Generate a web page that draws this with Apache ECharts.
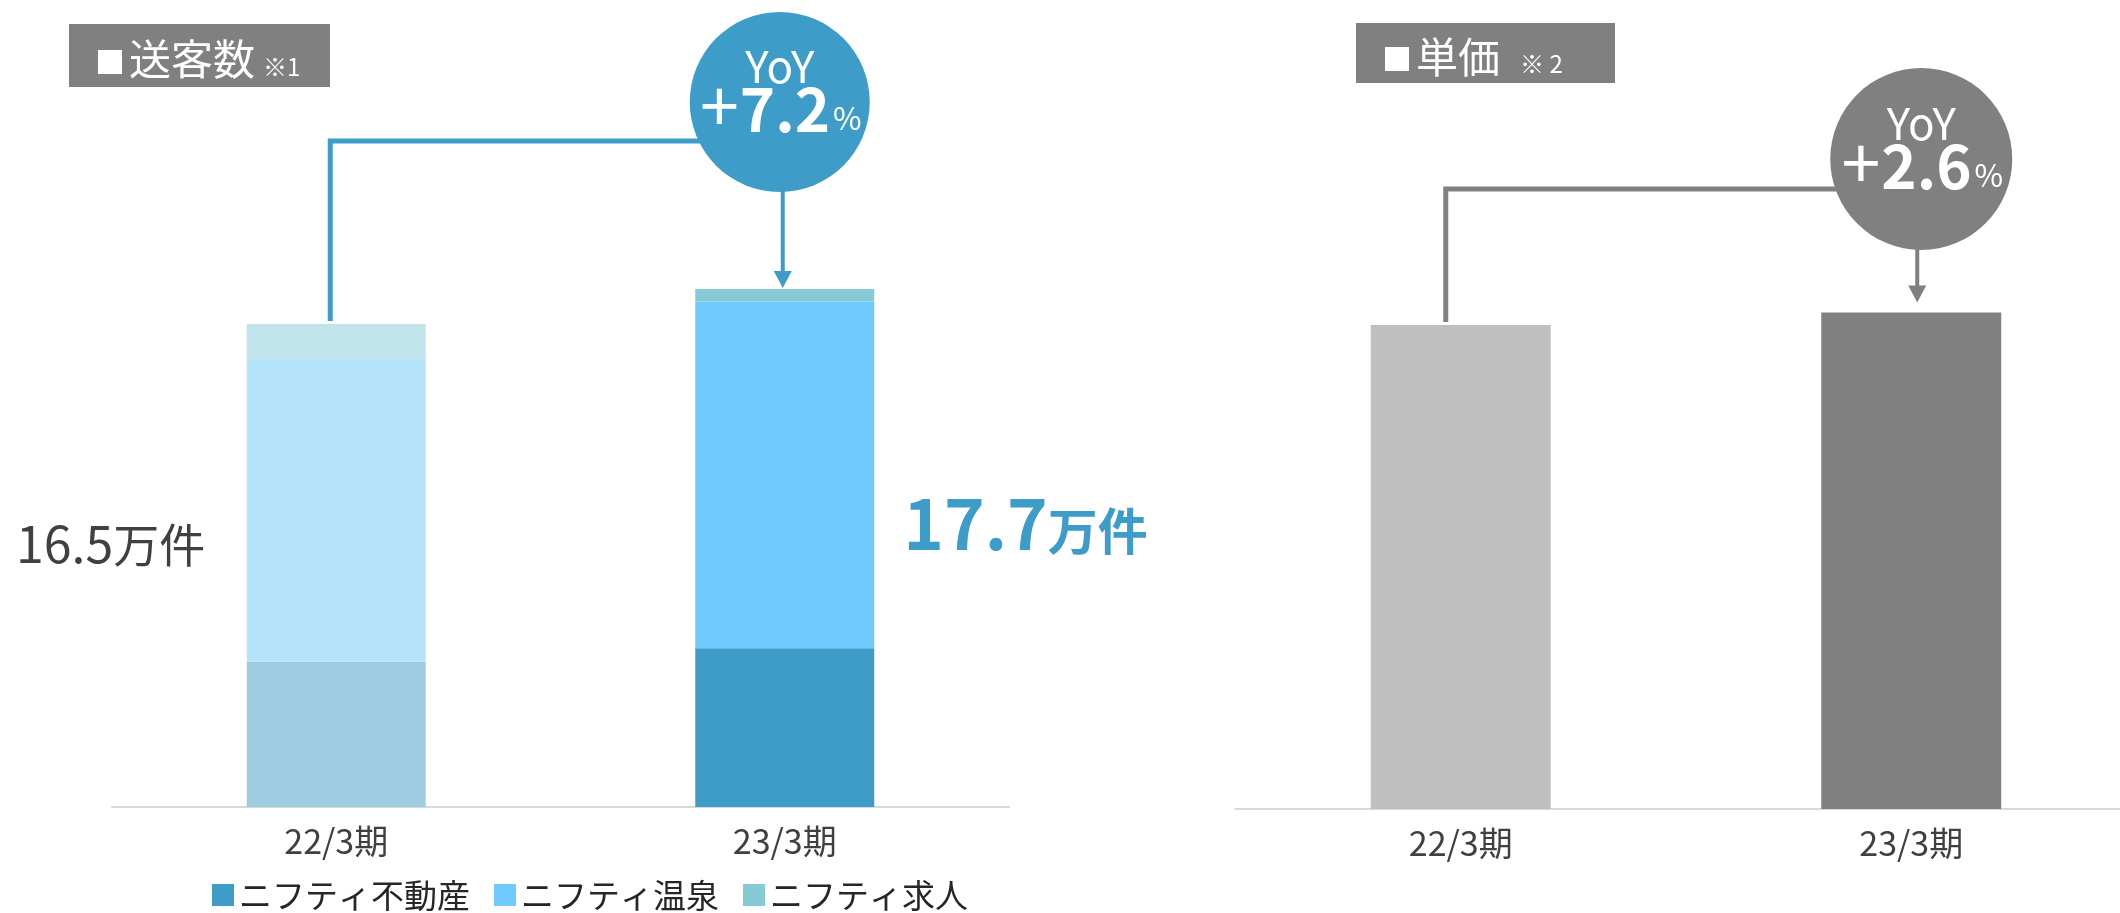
<!DOCTYPE html>
<html lang="ja">
<head>
<meta charset="utf-8">
<title>送客数・単価</title>
<script src="https://cdn.jsdelivr.net/npm/echarts@6/dist/echarts.min.js"></script>
<style>
  html, body { margin: 0; padding: 0; background: #ffffff; }
  #chart { width: 2120px; height: 913px; }
</style>
</head>
<body>
<div id="chart"></div>
<script>
// Fiscal periods
const categories = ['22/3期', '23/3期'];
// Referral volume by service (万件)
const seriesNames = ['ニフティ不動産', 'ニフティ温泉', 'ニフティ求人'];
const fudosan = [4.96, 5.42];
const onsen = [10.37, 11.85];
const kyujin = [1.17, 0.43];
// Unit price index (22/3期 = 100)
const unitPrice = [100, 102.6];
// Year-over-year changes (%)
const yoyVolume = '7.2';
const yoyPrice = '2.6';

const FONT = "'Noto Sans CJK JP', 'Noto Sans', sans-serif";
const prevColors = ['#9FCCE0', '#B5E3FA', '#C0E4EA'];
const currColors = ['#3E9CC6', '#71CAFE', '#86CAD6'];
const priceColors = ['#BFBFBF', '#808080'];
const BLUE = '#3E9DC8';
const GREY = '#808080';

const totals = categories.map((_, i) => fudosan[i] + onsen[i] + kyujin[i]);

function stackSeries(name, values, k) {
  return {
    name: name,
    type: 'bar',
    stack: 'volume',
    xAxisIndex: 0,
    yAxisIndex: 0,
    barWidth: 179,
    itemStyle: { color: currColors[k] },
    emphasis: { disabled: true },
    data: values.map((v, i) => ({
      value: v,
      itemStyle: { color: i === 0 ? prevColors[k] : currColors[k] }
    }))
  };
}

const axisCommon = {
  type: 'category',
  axisTick: { show: false },
  axisLine: { lineStyle: { color: '#D9D9D9', width: 2 } },
  axisLabel: { fontFamily: FONT, fontSize: 34, color: '#404040', margin: 17 }
};

const chart = echarts.init(document.getElementById('chart'), null, { renderer: 'canvas' });

chart.setOption({
  animation: false,
  backgroundColor: '#ffffff',
  grid: [
    { left: 112, width: 897, bottom: 106, top: 807 - 20 * 29.27, outerBoundsMode: 'none' },
    { left: 1235.5, width: 901, bottom: 104, top: 809 - 120 * 4.84, outerBoundsMode: 'none' }
  ],
  xAxis: [
    Object.assign({ gridIndex: 0, data: categories }, axisCommon),
    Object.assign({ gridIndex: 1, data: categories }, axisCommon)
  ],
  yAxis: [
    { type: 'value', gridIndex: 0, min: 0, max: 20, show: false, splitLine: { show: false } },
    { type: 'value', gridIndex: 1, min: 0, max: 120, show: false, splitLine: { show: false } }
  ],
  legend: {
    data: seriesNames,
    left: 212,
    top: 877,
    padding: 0,
    icon: 'rect',
    itemWidth: 22,
    itemHeight: 22,
    itemGap: 24,
    textStyle: { fontFamily: FONT, fontSize: 33, lineHeight: 36, color: '#262626' }
  },
  series: [
    stackSeries(seriesNames[0], fudosan, 0),
    stackSeries(seriesNames[1], onsen, 1),
    stackSeries(seriesNames[2], kyujin, 2),
    {
      name: '単価',
      type: 'bar',
      xAxisIndex: 1,
      yAxisIndex: 1,
      barWidth: 180,
      emphasis: { disabled: true },
      data: unitPrice.map((v, i) => ({ value: v, itemStyle: { color: priceColors[i] } }))
    }
  ]
});

// Annotation layer: headings, YoY badges, connectors and total labels
const px = (g, i, v) => chart.convertToPixel({ gridIndex: g }, [categories[i], v]);

function heading(x, y, w, h, title, note, noteGap) {
  return {
    type: 'group', x: x, y: y, children: [
      { type: 'rect', shape: { x: 0, y: 0, width: w, height: h }, style: { fill: GREY } },
      {
        type: 'text', x: 26, y: h / 2 + 2,
        style: {
          text: '{sq|■}{t|' + title + '}{n|' + note + '}',
          verticalAlign: 'middle', align: 'left', fill: '#ffffff',
          rich: {
            sq: { fontFamily: FONT, fontSize: 30, fill: '#ffffff', verticalAlign: 'bottom', lineHeight: 46, padding: [0, 4, 4, 0] },
            t: { fontFamily: FONT, fontSize: 42, fill: '#ffffff', verticalAlign: 'bottom', lineHeight: 46 },
            n: { fontFamily: FONT, fontSize: 24, fill: '#ffffff', verticalAlign: 'bottom', lineHeight: 46, padding: [0, 0, 2, noteGap] }
          }
        }
      }
    ]
  };
}

// g: grid index; dx: offset of the rising leg from the first bar's centre;
// hy: height of the horizontal leg; cy/r: badge circle; cdx/adx: badge and arrow offsets
function connector(g, color, dx, hy, cy, r, cdx, adx, arrowGap) {
  const vals = g === 0 ? totals : unitPrice;
  const a = px(g, 0, vals[0]);
  const b = px(g, 1, vals[1]);
  const lx = a[0] + dx;
  const cx = b[0] + cdx;
  const ax = b[0] + adx;
  const tipY = b[1] - arrowGap;
  return [
    {
      type: 'polyline', z: 10,
      shape: { points: [[lx, a[1] - 3], [lx, hy], [cx, hy]] },
      style: { stroke: color, lineWidth: 5, fill: null, lineJoin: 'miter' }
    },
    {
      type: 'line', z: 10,
      shape: { x1: ax, y1: cy + r - 2, x2: ax, y2: tipY - 14 },
      style: { stroke: color, lineWidth: 4 }
    },
    {
      type: 'polygon', z: 10,
      shape: { points: [[ax - 9, tipY - 17], [ax + 9, tipY - 17], [ax, tipY]] },
      style: { fill: color }
    },
    { type: 'circle', z: 11, shape: { cx: cx, cy: cy, r: r }, style: { fill: color } },
    {
      type: 'text', z: 12, x: cx, y: cy - 36,
      style: { text: 'YoY', fontFamily: FONT, fontSize: 44, fill: '#ffffff', align: 'center', verticalAlign: 'middle' }
    },
    {
      type: 'text', z: 12, x: cx + 1, y: cy + 38,
      style: {
        text: '{p|+}{v|' + (g === 0 ? yoyVolume : yoyPrice) + '}{u|%}',
        align: 'center', verticalAlign: 'bottom', fill: '#ffffff',
        rich: {
          p: { fontFamily: FONT, fontSize: 70, fill: '#ffffff', verticalAlign: 'bottom', lineHeight: 70, padding: [0, 1, 0, 0] },
          v: { fontFamily: FONT, fontSize: 60, fontWeight: 'bold', fill: '#ffffff', verticalAlign: 'bottom', lineHeight: 68, padding: [0, 0, 1, 0] },
          u: { fontFamily: FONT, fontSize: 31, fill: '#ffffff', verticalAlign: 'bottom', lineHeight: 68, padding: [0, 0, 6, 3] }
        }
      }
    }
  ];
}

const a0 = px(0, 0, totals[0]);
const b0 = px(0, 1, totals[1]);

chart.setOption({
  graphic: [
    heading(69, 24, 261, 63, '送客数', '※1', 8),
    heading(1356, 23, 259, 60, '単価', '※ 2', 20),
    ...connector(0, BLUE, -6, 141, 102, 90, -5, -2, 1),
    ...connector(1, GREY, -15, 189, 159, 91, 10, 6, 10),
    {
      type: 'text', x: a0[0] - 90 - 41, y: 540,
      style: {
        text: '{v|' + totals[0].toFixed(1) + '}{u|万件}',
        align: 'right', verticalAlign: 'middle',
        rich: {
          v: { fontFamily: FONT, fontSize: 50, fill: '#404040', verticalAlign: 'bottom', lineHeight: 58 },
          u: { fontFamily: FONT, fontSize: 46, fill: '#404040', verticalAlign: 'bottom', lineHeight: 58, padding: [0, 0, 1, 0] }
        }
      }
    },
    {
      type: 'text', x: b0[0] + 89.5 + 29, y: 520,
      style: {
        text: '{v|' + totals[1].toFixed(1) + '}{u|万件}',
        align: 'left', verticalAlign: 'middle',
        rich: {
          v: { fontFamily: FONT, fontSize: 69, fontWeight: 'bold', fill: BLUE, verticalAlign: 'bottom', lineHeight: 76 },
          u: { fontFamily: FONT, fontSize: 50, fontWeight: 'bold', fill: BLUE, verticalAlign: 'bottom', lineHeight: 76, padding: [0, 0, 2, 0] }
        }
      }
    }
  ]
});
</script>
</body>
</html>
